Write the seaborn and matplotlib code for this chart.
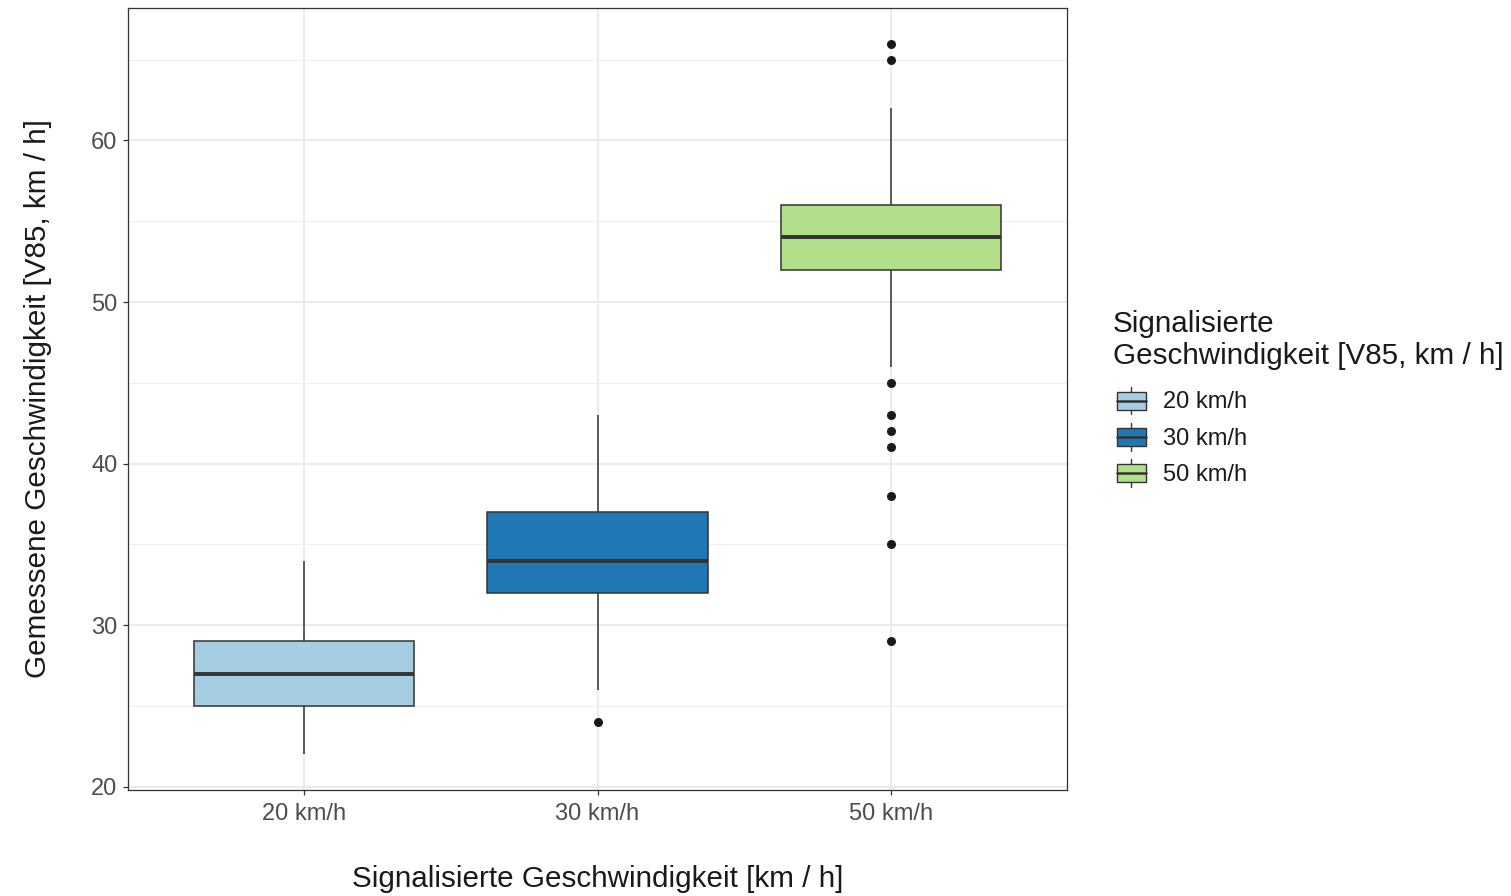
import numpy as np
import pandas as pd
import matplotlib
matplotlib.use("Agg")
import matplotlib.pyplot as plt
import seaborn as sns
from matplotlib.patches import Patch, Rectangle
from matplotlib.lines import Line2D
from matplotlib.legend_handler import HandlerBase

# ---- data ----
categories = ["20 km/h", "30 km/h", "50 km/h"]
whisker_low = [22, 26, 46]
q1 = [25, 32, 52]
median = [27, 34, 54]
q3 = [29, 37, 56]
whisker_high = [34, 43, 62]
outliers_20 = []
outliers_30 = [24]
outliers_50 = [66, 65, 45, 43, 42, 41, 38, 35, 29]
colors = ["#A6CEE3", "#1F78B4", "#B2DF8A"]
y_ticks = [20, 30, 40, 50, 60]
y_minor = [25, 35, 45, 55, 65]

x_title = "Signalisierte Geschwindigkeit [km / h]"
y_title = "Gemessene Geschwindigkeit [V85, km / h]"
legend_title = "Signalisierte\nGeschwindigkeit [V85, km / h]"

# five-number summary as long-form table (drawn with whis=(0,100))
rows = []
for i, c in enumerate(categories):
    for v in (whisker_low[i], q1[i], median[i], q3[i], whisker_high[i]):
        rows.append({"cat": c, "value": v})
box_df = pd.DataFrame(rows)

out_rows = []
for c, outs in zip(categories, [outliers_20, outliers_30, outliers_50]):
    for v in outs:
        out_rows.append({"cat": c, "value": v})
out_df = pd.DataFrame(out_rows)

sns.set_style("white")
plt.rcParams["font.family"] = ["Liberation Sans", "DejaVu Sans"]

W, H = 1511, 896
fig = plt.figure(figsize=(W / 100, H / 100), dpi=100)
ax = fig.add_axes([128 / W, 1 - 790 / H, (1067 - 128) / W, (790 - 8) / H])

EDGE = "#333333"
ax.set_axisbelow(True)
sns.boxplot(data=box_df, x="cat", y="value", hue="cat", order=categories,
            hue_order=categories, palette=colors, saturation=1, width=0.75,
            whis=(0, 100), linewidth=1.1, linecolor=EDGE, showcaps=False,
            showfliers=False, medianprops={"linewidth": 2.8, "color": EDGE},
            legend=False, ax=ax)
sns.stripplot(data=out_df, x="cat", y="value", order=categories, jitter=False,
              color="#1a1a1a", size=6.5, linewidth=0, ax=ax, zorder=5)

ax.set_xlim(-0.6, 2.6)
ax.set_ylim(19.8, 68.2)
ax.set_yticks(y_ticks)
ax.set_yticks(y_minor, minor=True)
ax.grid(True, which="major", color="#EBEBEB", linewidth=1.5)
ax.grid(True, which="minor", axis="y", color="#EFEFEF", linewidth=0.8)
ax.grid(False, which="minor", axis="x")
for s in ax.spines.values():
    s.set_visible(True)
    s.set_color(EDGE)
    s.set_linewidth(0.9)

ax.tick_params(axis="both", which="major", length=3.6, width=0.9, color=EDGE,
               labelcolor="#4D4D4D", labelsize=17, pad=4, bottom=True, left=True)
ax.tick_params(axis="x", which="major", pad=6)
ax.tick_params(axis="both", which="minor", length=0)

ax.set_xlabel(x_title, fontsize=21.3, color="#1a1a1a", labelpad=28.5)
ax.set_ylabel(y_title, fontsize=21.3, color="#1a1a1a", labelpad=28)

INDENT = 3.0  # points


class BoxHandler(HandlerBase):
    def create_artists(self, legend, orig_handle, xdescent, ydescent,
                       width, height, fontsize, trans):
        fc = orig_handle.get_facecolor()
        x0, y0 = -xdescent + INDENT, -ydescent
        w = width - INDENT
        cx = x0 + w / 2
        wl = Line2D([cx, cx], [y0, y0 + height], color=EDGE, lw=1.0,
                    transform=trans)
        bh = height * 0.66
        by = y0 + (height - bh) / 2
        rect = Rectangle((x0, by), w, bh, facecolor=fc, edgecolor=EDGE,
                         lw=1.0, transform=trans)
        med = Line2D([x0, x0 + w], [y0 + height / 2] * 2, color=EDGE,
                     lw=1.8, transform=trans)
        return [wl, rect, med]


handles = [Patch(facecolor=c, edgecolor=EDGE, label=l)
           for c, l in zip(colors, categories)]
leg = fig.legend(handles=handles, labels=categories, title=legend_title,
                 loc="upper left", bbox_to_anchor=(1113 / W, 1 - 310 / H),
                 frameon=False, fontsize=17, title_fontsize=21.3,
                 handler_map={Patch: BoxHandler()}, handlelength=1.38,
                 handleheight=1.4, handletextpad=0.75, labelspacing=0.38,
                 borderpad=0, borderaxespad=0)
leg._legend_box.align = "left"
leg._legend_box.sep = 0.38 * 17 + 5.5
leg.get_title().set_color("#1a1a1a")
for t in leg.get_texts():
    t.set_color("#1a1a1a")

fig.savefig("out.png", dpi=100)
